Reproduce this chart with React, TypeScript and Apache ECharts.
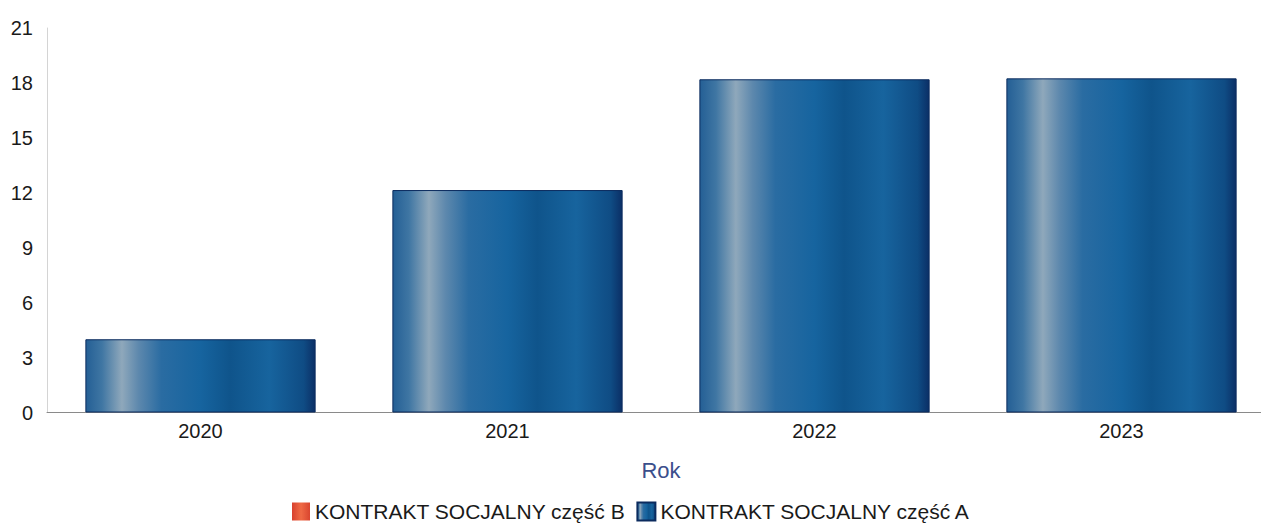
import React, { useEffect, useRef } from "react";
import * as echarts from "echarts";

const categories = ["2020", "2021", "2022", "2023"];
const seriesAValues = [4, 12.15, 18.2, 18.25];
const seriesBValues = [0, 0, 0, 0];
const seriesNames = ["KONTRAKT SOCJALNY część B", "KONTRAKT SOCJALNY część A"];
const yTicks = { min: 0, max: 21, interval: 3 };

const FONT = "'Liberation Sans', Arial, sans-serif";

const blueGradient = new echarts.graphic.LinearGradient(0, 0, 1, 0, [
  { offset: 0, color: "#245f95" },
  { offset: 0.07, color: "#3f76a3" },
  { offset: 0.157, color: "#8fa8bb" },
  { offset: 0.23, color: "#5d88ad" },
  { offset: 0.33, color: "#2a6ca2" },
  { offset: 0.5, color: "#16649f" },
  { offset: 0.63, color: "#0f548b" },
  { offset: 0.8, color: "#17649e" },
  { offset: 0.95, color: "#0f4c84" },
  { offset: 1, color: "#0b2f66" },
]);

const redGradient = new echarts.graphic.LinearGradient(0, 0, 1, 0, [
  { offset: 0, color: "#d8402e" },
  { offset: 0.5, color: "#ef6a45" },
  { offset: 1, color: "#d9452f" },
]);

export default function App() {
  const ref = useRef<HTMLDivElement>(null);
  useEffect(() => {
    if (!ref.current) return;
    const chart = echarts.init(ref.current, undefined, { renderer: "svg" });
    chart.setOption({
      animation: false,
      backgroundColor: "#ffffff",
      textStyle: { fontFamily: FONT },
      grid: { left: 47, right: 0, top: 28, bottom: 112.5, containLabel: false },
      legend: {
        data: seriesNames,
        left: 292,
        top: 501,
        padding: 0,
        itemWidth: 18,
        itemHeight: 18,
        itemGap: 11,
        icon: "rect",
        textStyle: { fontSize: 21, color: "#1a1a1a", fontFamily: FONT },
      },
      xAxis: {
        type: "category",
        data: categories,
        axisLine: { show: true, lineStyle: { color: "#8a8a8a", width: 1 } },
        axisTick: { show: false },
        axisLabel: { fontSize: 20, color: "#1a1a1a", margin: 8, fontFamily: FONT },
        name: "Rok",
        nameLocation: "middle",
        nameGap: 47,
        nameTextStyle: { fontSize: 22, color: "#3b4f8c", fontFamily: FONT },
        splitLine: { show: false },
      },
      yAxis: {
        type: "value",
        min: yTicks.min,
        max: yTicks.max,
        interval: yTicks.interval,
        axisLine: { show: true, lineStyle: { color: "#d4d4d4", width: 1 } },
        axisTick: { show: false },
        axisLabel: { fontSize: 20, color: "#1a1a1a", margin: 14, fontFamily: FONT },
        splitLine: { show: false },
      },
      series: [
        {
          name: seriesNames[0],
          type: "bar",
          stack: "total",
          data: seriesBValues,
          barWidth: "75%",
          itemStyle: { color: redGradient },
        },
        {
          name: seriesNames[1],
          type: "bar",
          stack: "total",
          data: seriesAValues,
          barWidth: "75%",
          itemStyle: { color: blueGradient, borderColor: "#0b2b5e", borderWidth: 1 },
        },
      ],
    });
    return () => chart.dispose();
  }, []);
  return (
    <div
      style={{
        position: "absolute",
        left: 0,
        top: 0,
        width: 1261,
        height: 525,
        overflow: "hidden",
      }}
    >
      <div ref={ref} style={{ width: 1275, height: 525 }} />
    </div>
  );
}
